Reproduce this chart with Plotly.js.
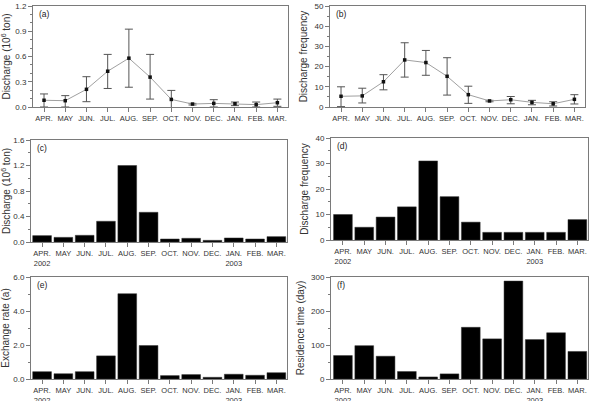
<!DOCTYPE html>
<html>
<head>
<meta charset="utf-8">
<script src="https://cdn.plot.ly/plotly-3.0.1.min.js"></script>
<style>
  html, body { margin: 0; padding: 0; background: #fff; }
  #chart { width: 592px; height: 401px; }
</style>
</head>
<body>
<div id="chart"></div>
<script>
// Month labels (April 2002 – March 2003)
const months = ['APR.', 'MAY', 'JUN.', 'JUL.', 'AUG.', 'SEP.', 'OCT.', 'NOV.', 'DEC.', 'JAN.', 'FEB.', 'MAR.'];
const monthsYear = ['APR.<br>2002', 'MAY', 'JUN.', 'JUL.', 'AUG.', 'SEP.', 'OCT.', 'NOV.', 'DEC.', 'JAN.<br>2003', 'FEB.', 'MAR.'];

// (a) mean monthly discharge with upper / lower bounds
const dischargeMean  = [0.08, 0.075, 0.21, 0.425, 0.58, 0.355, 0.09, 0.035, 0.043, 0.039, 0.028, 0.051];
const dischargeUpper = [0.155, 0.135, 0.36, 0.625, 0.925, 0.625, 0.197, 0.043, 0.087, 0.059, 0.059, 0.094];
const dischargeLower = [0.0, 0.0, 0.063, 0.22, 0.235, 0.094, -0.024, 0.024, 0.0, 0.016, 0.0, 0.008];

// (b) mean monthly discharge frequency with upper / lower bounds
const freqMean  = [5.3, 5.5, 12.5, 23.3, 22.0, 15.2, 6.1, 3.0, 3.6, 2.3, 1.6, 3.8];
const freqUpper = [10.0, 9.3, 16.0, 31.8, 28.0, 24.4, 10.3, 3.3, 5.2, 3.3, 2.6, 6.1];
const freqLower = [0.2, 2.0, 8.5, 14.8, 15.7, 5.9, 1.8, 2.6, 1.6, 1.1, 0.5, 1.5];

// (c)–(f) values for 2002–2003
const discharge2002 = [0.10, 0.073, 0.105, 0.325, 1.20, 0.466, 0.047, 0.058, 0.026, 0.063, 0.047, 0.084];
const frequency2002 = [10, 5, 9, 13, 31, 17, 7, 3, 3, 3, 3, 8];
const exchangeRate  = [0.43, 0.31, 0.43, 1.36, 5.02, 1.97, 0.20, 0.26, 0.10, 0.28, 0.22, 0.37];
const residenceTime = [69, 98, 67, 22, 6, 15, 152, 118, 288, 116, 136, 81];

const W = 592, H = 401;
const fx = (a, b) => [a / W, b / W];
const fy = (top, bottom) => [1 - bottom / H, 1 - top / H];

const font = 'Liberation Sans, Arial, sans-serif';
const frame = '#7a7a7a';
const tickColor = '#333';

function xAxis(domain, labels, anchor, range) {
  return {
    domain: domain, anchor: anchor, type: 'linear',
    range: range,
    tickmode: 'array', tickvals: labels.map((_, i) => i), ticktext: labels,
    ticks: 'outside', ticklen: 4, tickwidth: 1, tickcolor: frame,
    showline: true, linecolor: frame, linewidth: 1, mirror: true,
    showgrid: false, zeroline: false,
    tickfont: { family: font, size: 7.5, color: tickColor },
    fixedrange: true
  };
}

function yAxis(domain, anchor, range, dtick, fmt, title, minorDtick) {
  return {
    domain: domain, anchor: anchor,
    range: range, dtick: dtick, tick0: 0, tickformat: fmt,
    ticks: 'outside', ticklen: 4, tickwidth: 1, tickcolor: frame,
    minor: { dtick: minorDtick, ticks: 'outside', ticklen: 2, tickcolor: frame, showgrid: false },
    showline: true, linecolor: frame, linewidth: 1, mirror: true,
    showgrid: false, zeroline: false,
    tickfont: { family: font, size: 8, color: tickColor },
    title: { text: title, font: { family: font, size: 10, color: '#333' }, standoff: 4 },
    fixedrange: true
  };
}

function lineTrace(mean, upper, lower, xa, ya) {
  return {
    type: 'scatter', mode: 'lines+markers',
    x: mean.map((_, i) => i), y: mean,
    xaxis: xa, yaxis: ya,
    line: { color: '#a0a0a0', width: 1 },
    marker: { symbol: 'square', size: 3.5, color: '#111' },
    error_y: {
      type: 'data', symmetric: false,
      array: upper.map((u, i) => u - mean[i]),
      arrayminus: lower.map((l, i) => mean[i] - l),
      color: '#555', thickness: 1, width: 4
    },
    cliponaxis: true,
    showlegend: false, hoverinfo: 'skip'
  };
}

function barTrace(vals, xa, ya) {
  return {
    type: 'bar', x: vals.map((_, i) => i), y: vals,
    xaxis: xa, yaxis: ya,
    marker: { color: '#000', line: { color: '#333', width: 0.5 } },
    showlegend: false, hoverinfo: 'skip'
  };
}

const data = [
  lineTrace(dischargeMean, dischargeUpper, dischargeLower, 'x', 'y'),
  lineTrace(freqMean, freqUpper, freqLower, 'x2', 'y2'),
  barTrace(discharge2002, 'x3', 'y3'),
  barTrace(frequency2002, 'x4', 'y4'),
  barTrace(exchangeRate, 'x5', 'y5'),
  barTrace(residenceTime, 'x6', 'y6')
];

const dischargeTitle = 'Discharge (10<sup>6</sup> ton)';

const layout = {
  width: W, height: H,
  margin: { l: 0, r: 0, t: 0, b: 0 },
  paper_bgcolor: '#fff', plot_bgcolor: '#fff',
  bargap: 0.12,
  font: { family: font },
  xaxis:  xAxis(fx(33, 288), months, 'y', [-0.52, 11.5]),
  yaxis:  yAxis(fy(6, 107), 'x', [0, 1.2], 0.3, '.1f', dischargeTitle, 0.1),
  xaxis2: xAxis(fx(330, 585), months, 'y2', [-0.52, 11.5]),
  yaxis2: yAxis(fy(6, 107), 'x2', [0, 50], 10, 'd', 'Discharge frequency', 5),
  xaxis3: xAxis(fx(31, 287), monthsYear, 'y3', [-0.52, 11.5]),
  yaxis3: yAxis(fy(140, 242), 'x3', [0, 1.6], 0.4, '.1f', dischargeTitle, 0.2),
  xaxis4: xAxis(fx(331, 588), monthsYear, 'y4', [-0.56, 11.5]),
  yaxis4: yAxis(fy(138, 240), 'x4', [0, 40], 10, 'd', 'Discharge frequency', 5),
  xaxis5: xAxis(fx(31, 287), monthsYear, 'y5', [-0.52, 11.5]),
  yaxis5: yAxis(fy(277, 379), 'x5', [0, 6], 2, '.1f', 'Exchange rate (a)', 1),
  xaxis6: xAxis(fx(331, 588), monthsYear, 'y6', [-0.56, 11.5]),
  yaxis6: yAxis(fy(277, 379), 'x6', [0, 300], 100, 'd', 'Residence time (day)', 50),
  annotations: ['(a)', '(b)', '(c)', '(d)', '(e)', '(f)'].map((t, i) => ({
    text: t,
    xref: (i === 0 ? 'x' : 'x' + (i + 1)) + ' domain',
    yref: (i === 0 ? 'y' : 'y' + (i + 1)) + ' domain',
    x: 0.015, y: 0.99, xanchor: 'left', yanchor: 'top',
    showarrow: false,
    font: { family: font, size: 8.5, color: '#222' }
  }))
};

Plotly.newPlot('chart', data, layout, { staticPlot: true, displayModeBar: false });
</script>
</body>
</html>
